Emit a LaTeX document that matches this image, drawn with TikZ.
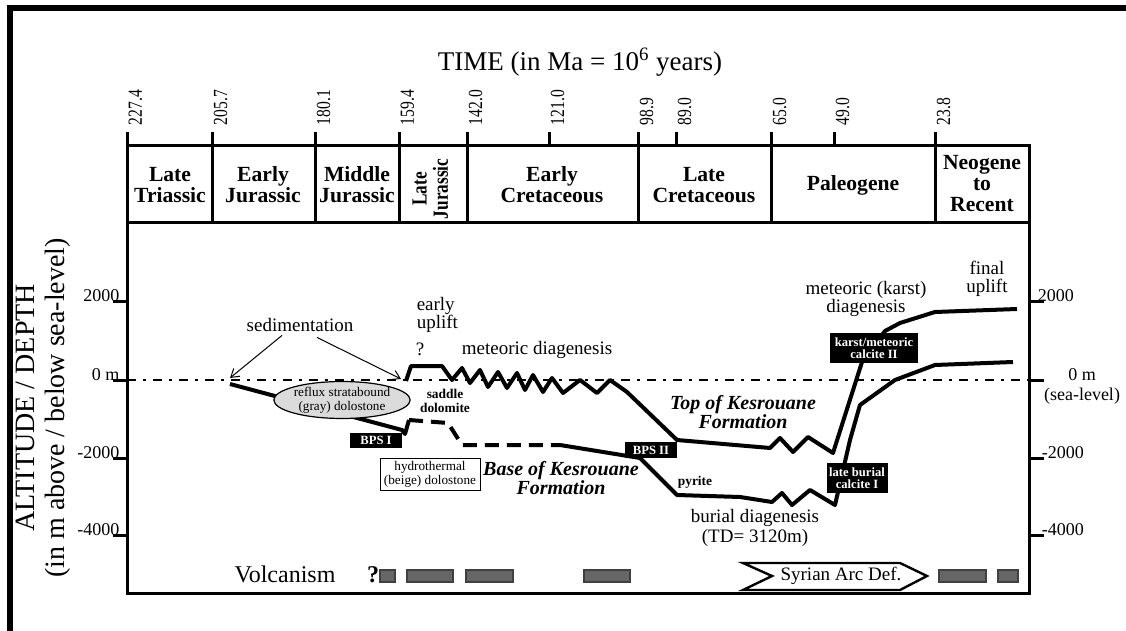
\documentclass[tikz,border=0pt]{standalone}
\usepackage{fontspec}
\setmainfont{Liberation Serif}
\usetikzlibrary{arrows.meta,shapes.geometric,calc}

\tikzset{every picture/.style={line width=0.75pt}}
\tikzset{
  heavy/.style={line width=1.5pt},
  agelbl/.style={rotate=90, anchor=north west, inner sep=0pt, font=\fontsize{10}{12}\selectfont},
  period/.style={align=center, inner sep=0pt, font=\fontsize{10.8}{10.5}\selectfont\bfseries},
  depthlbl/.style={inner sep=0pt, font=\fontsize{9}{11}\selectfont},
  note/.style={align=center, inner sep=0pt, font=\fontsize{9.5}{9}\selectfont},
  smallnote/.style={align=center, inner sep=0pt, font=\fontsize{6.6}{7}\selectfont},
  smallbold/.style={align=center, inner sep=0pt, font=\fontsize{6.7}{7}\selectfont\bfseries},
  bpsbox/.style={fill=black, text=white, inner sep=0pt, align=center, font=\fontsize{6.3}{5.8}\selectfont\bfseries},
  formation/.style={align=center, inner sep=0pt, font=\fontsize{10}{9.5}\selectfont\bfseries\itshape},
  kline/.style={line width=2pt, line join=round},
  volcbar/.style={fill=black!60, draw=black!75, line width=0.6pt},
  sedarrow/.style={line width=0.5pt, -{Straight Barb[length=4pt,width=5pt]}},
}

\begin{document}
\begin{tikzpicture}[x=0.5pt,y=0.5pt,yscale=-1]
\useasboundingbox (0,0) rectangle (1126,631);
% outer frame
\draw[line width=2.8pt] (10,631) -- (10,8) -- (1126,8);

% Text Node
\node (time) at (580,62) {\fontsize{13.5}{16}\selectfont TIME (in Ma = 10\textsuperscript{6} years)};

% period boxes
\draw[heavy] (127,146) rectangle (1029,223);
\foreach \x in {212,315,399,467,638,771,935}
  \draw[heavy] (\x,146) -- (\x,223);
% plot frame
\draw[heavy] (127,223) rectangle (1029,593);

% age ticks
\foreach \x/\a [count=\i] in {127/227.4,212/205.7,315/180.1,399/159.4,467/142.0,549/121.0,638/98.9,676/89.0,771/65.0,834/49.0,935/23.8}{
  \draw[heavy] (\x,132) -- (\x,146);
  \node[agelbl] (age\i) at (\x+1,126) {\scalebox{0.78}[1]{\a}};
}

% Text Node
\node[period] (ltri) at (170,185) {Late\\Triassic};
\node[period] (ejur) at (263,185) {Early\\Jurassic};
\node[period] (mjur) at (357,185) {Middle\\Jurassic};
\node[period, rotate=90] (ljur) at (433,189) {\scalebox{0.8}[1]{\begin{tabular}{@{}c@{}}Late\\Jurassic\end{tabular}}};
\node[period] (ecre) at (552,185) {Early\\Cretaceous};
\node[period] (lcre) at (704,185) {Late\\Cretaceous};
\node[period] (paleo) at (853,185) {Paleogene};
\node[period] (neo) at (982,184) {Neogene\\to\\Recent};

% depth axis
\node[rotate=90, align=center, inner sep=0pt, font=\fontsize{14}{15}\selectfont] (ytitle) at (43,408) {ALTITUDE / DEPTH\\(in m above / below sea-level)};
\foreach \y in {301,380,458,535}{
  \draw[heavy] (113,\y) -- (127,\y);
  \draw[heavy] (1029,\y) -- (1044,\y);
}
\node[depthlbl, anchor=south east] (l2000) at (120,302) {2000};
\node[depthlbl, anchor=south east] (l0) at (120,381) {0 m};
\node[depthlbl, anchor=south east] (lm2000) at (120,459) {-2000};
\node[depthlbl, anchor=south east] (lm4000) at (120,536) {-4000};
\node[depthlbl, anchor=south west] (r2000) at (1037,302) {2000};
\node[depthlbl, align=center, font=\fontsize{9}{10}\selectfont] (r0) at (1082,386) {0 m\\(sea-level)};
\node[depthlbl, anchor=south west] (rm2000) at (1041,459) {-2000};
\node[depthlbl, anchor=south west] (rm4000) at (1041,536) {-4000};

% sea level
\draw[line width=1pt, dash pattern=on 4.5pt off 3.5pt on 1.5pt off 3.5pt] (127,380) -- (1029,380);

% Base of Kesrouane
\draw[kline] (230,384) -- (402,430) -- (405,434) -- (409,420);
\draw[kline, dash pattern=on 7pt off 4pt] (409,420) -- (448,423) -- (462,445) -- (560,445);
\draw[kline] (560,445) -- (640,458) -- (677,495) -- (740,497) -- (772,502) -- (782,493) -- (792,505) -- (810,490) -- (835,505) -- (850,440) -- (860,405) -- (895,380) -- (935,365) -- (1013,362);
% Top of Kesrouane
\draw[kline] (406,381) -- (411,366) -- (442,366) -- (452,380) -- (462,368) -- (470,383) -- (480,370) -- (488,387) -- (498,372) -- (507,388) -- (517,373) -- (525,390) -- (533,375) -- (543,392) -- (552,378) -- (563,393) -- (580,380) -- (597,393) -- (610,380) -- (627,392) -- (677,440) -- (770,448) -- (780,438) -- (793,452) -- (808,437) -- (833,453) -- (862,362) -- (885,331) -- (900,323) -- (935,312) -- (1017,309);

% Text Node
\node[draw, ellipse, fill=black!14, line width=0.6pt, minimum width=68pt, minimum height=16pt, smallnote] (reflux) at (342,400) {reflux stratabound\\(gray) dolostone};
\node[bpsbox, minimum width=26pt, minimum height=7.5pt] (bps1) at (376,440) {BPS I};
\node[bpsbox, minimum width=26pt, minimum height=8pt] (bps2) at (651,450) {BPS II};
\node[bpsbox, minimum width=44pt, minimum height=15pt] (karst) at (874,348) {karst/meteoric\\calcite II};
\node[bpsbox, minimum width=30.5pt, minimum height=15pt] (lateburial) at (857,478) {late burial\\calcite I};
\node[draw, fill=white, line width=0.5pt, smallnote, minimum width=50pt, minimum height=16pt] (hydro) at (430,474) {hydrothermal\\(beige) dolostone};
\node[smallbold] (saddle) at (445,401) {saddle\\dolomite};
\node[smallbold] (pyrite) at (695,482) {pyrite};
\node[formation] (basek) at (561,478) {Base of Kesrouane\\Formation};
\node[formation] (topk) at (743,412) {Top of Kesrouane\\Formation};

% Text Node
\node[note] (sed) at (300,325) {sedimentation};
\coordinate (sedL) at (230,378);
\coordinate (sedR) at (401,379);
\draw[sedarrow] ($(sed.south)+(-18,3)$) -- (sedL);
\draw[sedarrow] ($(sed.south)+(17,5)$) -- (sedR);
\node[note, align=left, anchor=north west] (early) at (416,297) {early\\uplift};
\node[note] (q1) at (420,349) {?};
\node[note] (metdia) at (537,350) {meteoric diagenesis};
\node[note] (metkarst) at (866,299) {meteoric (karst)\\diagenesis};
\node[note] (final) at (987,279) {final\\uplift};
\node[note, font=\fontsize{9.5}{10}\selectfont] (burial) at (755,528) {burial diagenesis\\(TD= 3120m)};

% volcanism
\node[inner sep=0pt, font=\fontsize{12}{14}\selectfont] (volc) at (285,574) {Volcanism};
\node[inner sep=0pt, font=\fontsize{12}{14}\selectfont\bfseries] (vq) at (373,575) {?};
\foreach \a/\b in {380/395,407/453,466/513,584/630,939/986,998/1018}
  \draw[volcbar] (\a,570) rectangle (\b,582);
\draw[line width=1.2pt, fill=white] (743,563) -- (900,563) -- (927,576) -- (900,590) -- (743,590) -- (772,576) -- cycle;
\node[note, font=\fontsize{9.5}{11}\selectfont] (syrian) at (841,576) {Syrian Arc Def.};
\end{tikzpicture}
\end{document}
